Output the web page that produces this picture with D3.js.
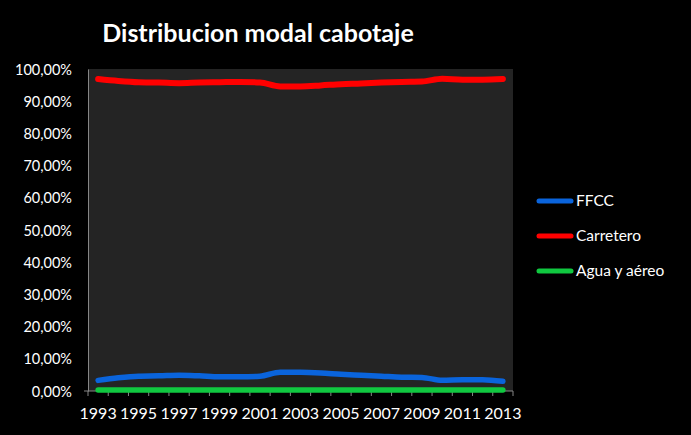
<!DOCTYPE html>
<html><head><meta charset="utf-8">
<script src="https://cdn.jsdelivr.net/npm/d3@7"></script>
<style>html,body{margin:0;padding:0;background:#000;}svg{display:block;}</style>
</head><body>
<script>
const years = [1993,1994,1995,1996,1997,1998,1999,2000,2001,2002,2003,2004,2005,2006,2007,2008,2009,2010,2011,2012,2013];
const ffcc = [3.3,4.1,4.6,4.7,4.9,4.7,4.4,4.4,4.6,5.8,5.8,5.6,5.2,4.9,4.6,4.3,4.2,3.3,3.5,3.5,3.0];
const carretero = [96.9,96.3,95.9,95.8,95.6,95.8,95.9,96.0,95.8,94.6,94.6,94.9,95.3,95.5,95.8,96.0,96.1,97.0,96.7,96.7,96.9];
const agua = [0.3,0.3,0.3,0.3,0.3,0.3,0.3,0.3,0.3,0.3,0.3,0.3,0.3,0.3,0.3,0.3,0.3,0.3,0.3,0.3,0.3];
const yTicks = [0,10,20,30,40,50,60,70,80,90,100];
const xLabels = [1993,1995,1997,1999,2001,2003,2005,2007,2009,2011,2013];
const seriesNames = ["FFCC","Carretero","Agua y aéreo"];
const seriesColors = ["#0a64dc","#ff0000","#10c840"];

const W=691,H=435;
const m={left:88,right:513,top:69,bottom:391};
const svg=d3.select("body").append("svg").attr("width",W).attr("height",H).style("background","#000");
const font="Lato, 'Open Sans', sans-serif";

svg.append("text").attr("x",258).attr("y",42).attr("text-anchor","middle")
  .attr("fill","#fff").attr("font-family",font).attr("font-weight","bold").attr("font-size",25)
  .text("Distribucion modal cabotaje");

const x=d3.scaleBand().domain(years).range([m.left,m.right]);
const y=d3.scaleLinear().domain([0,100]).range([m.bottom,m.top]);

svg.append("rect").attr("x",m.left).attr("y",m.top).attr("width",m.right-m.left).attr("height",m.bottom-m.top).attr("fill","#242424");

// y axis
const yAxis=d3.axisLeft(y).tickValues(yTicks).tickSize(0).tickPadding(16).tickFormat(d=>d3.format(".2f")(d).replace(".",",")+"%");
const gy=svg.append("g").attr("transform",`translate(${m.left},0)`).call(yAxis);
gy.select(".domain").attr("stroke","#868686");
gy.selectAll("text").attr("fill","#fff").attr("font-family",font).attr("font-size",14.5).attr("dy","0.35em");

// x axis
const gx=svg.append("g").attr("transform",`translate(0,${m.bottom})`);
gx.append("line").attr("x1",m.left-4).attr("x2",m.right).attr("stroke","#868686");
const bounds=years.map(d=>x(d)).concat([m.right]);
gx.selectAll("line.t").data(bounds).join("line").attr("class","t")
  .attr("x1",d=>d).attr("x2",d=>d).attr("y1",0).attr("y2",5).attr("stroke","#868686");
gx.selectAll("text").data(xLabels).join("text")
  .attr("x",d=>x(d)+x.bandwidth()/2).attr("y",28).attr("text-anchor","middle")
  .attr("fill","#fff").attr("font-family",font).attr("font-size",16).text(d=>d);

const line=d3.line().x((d,i)=>x(years[i])+x.bandwidth()/2).y(d=>y(d)).curve(d3.curveMonotoneX);
const data=[ffcc,carretero,agua];
const widths=[5.5,6,5.5];
data.forEach((s,i)=>{
  svg.append("path").datum(s).attr("d",line).attr("fill","none").attr("stroke",seriesColors[i])
    .attr("stroke-width",widths[i]).attr("stroke-linecap","round").attr("stroke-linejoin","round");
});

// legend
const ly=[201,236,271];
seriesNames.forEach((n,i)=>{
  svg.append("line").attr("x1",539).attr("x2",571).attr("y1",ly[i]).attr("y2",ly[i])
    .attr("stroke",seriesColors[i]).attr("stroke-width",5).attr("stroke-linecap","round");
  svg.append("text").attr("x",576).attr("y",ly[i]).attr("dy","0.35em").attr("fill","#fff")
    .attr("font-family",font).attr("font-size",15.5).text(n);
});
</script>
</body></html>
